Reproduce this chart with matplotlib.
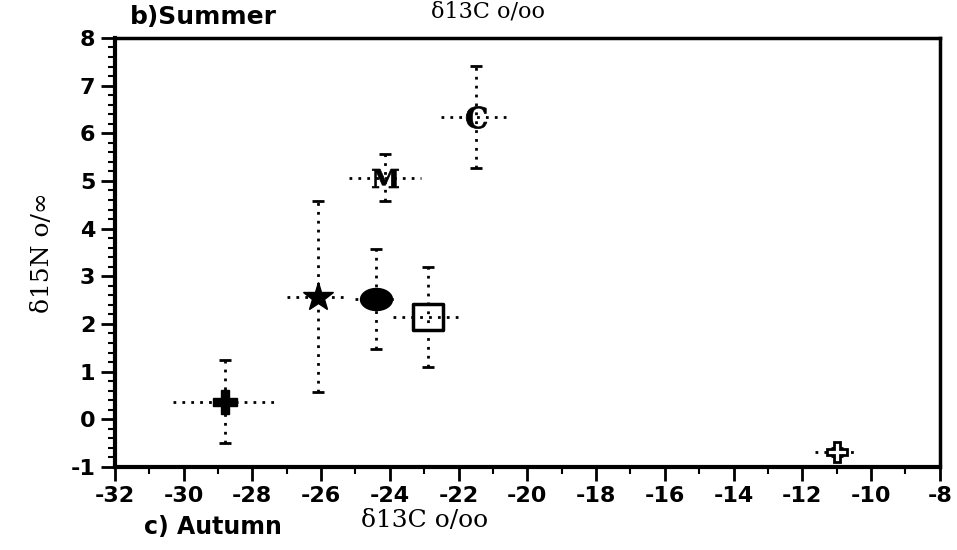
import numpy as np
import matplotlib
matplotlib.use('Agg')
import matplotlib.pyplot as plt
from matplotlib.path import Path
from matplotlib.ticker import MultipleLocator

plt.rcParams['axes.unicode_minus'] = False
plt.rcParams['mathtext.fontset'] = 'dejavuserif'

# summer isotope means with standard deviations
groups = ['cross', 'star', 'ellipse', 'square', 'M', 'C', 'open cross']
d13c = [-28.8, -26.1, -24.4, -22.9, -24.15, -21.5, -11.0]
d15n = [0.37, 2.57, 2.53, 2.15, 5.07, 6.35, -0.68]
d13c_sd = [1.5, 0.9, 0.6, 1.0, 1.05, 1.0, 0.62]
d15n_sd = [0.87, 2.0, 1.05, 1.05, 0.5, 1.07, 0.08]

xticks = list(range(-32, -7, 2))
yticks = list(range(-1, 9))

# marker shapes
theta = np.linspace(0, 2 * np.pi, 60)
ellipse = Path(np.column_stack([1.45 * np.cos(theta), np.sin(theta)]))
rect = Path([(-1.2, -1), (1.2, -1), (1.2, 1), (-1.2, 1), (-1.2, -1)],
            [Path.MOVETO, Path.LINETO, Path.LINETO, Path.LINETO, Path.CLOSEPOLY])

styles = {
    'cross': dict(marker='P', ms=17, mfc='black', mec='black'),
    'star': dict(marker='*', ms=22, mfc='black', mec='black'),
    'ellipse': dict(marker=ellipse, ms=23, mfc='black', mec='black'),
    'square': dict(marker=rect, ms=22, mfc='none', mec='black', mew=2.5),
    'M': dict(marker=r'$\mathbf{M}$', ms=19, mfc='black', mec='black', mew=0.5),
    'C': dict(marker=r'$\mathbf{C}$', ms=16, mfc='black', mec='black', mew=0.5),
    'open cross': dict(marker='P', ms=15, mfc='white', mec='black', mew=2),
}

fig = plt.figure(figsize=(9.57, 5.5), dpi=100)
ax = fig.add_axes([0.120, 0.151, 0.862, 0.780])

for g, x, y, xe, ye in zip(groups, d13c, d15n, d13c_sd, d15n_sd):
    # vertical bars carry small caps, horizontal ones do not
    ebv = ax.errorbar(x, y, yerr=ye, fmt='none', ecolor='black',
                      elinewidth=2, capsize=4, capthick=2, zorder=2)
    ebh = ax.errorbar(x, y, xerr=xe, fmt='none', ecolor='black',
                      elinewidth=2, capsize=0, zorder=2)
    for lc in list(ebv[2]) + list(ebh[2]):
        lc.set_linestyle((0, (1, 2.2)))
    ax.plot(x, y, linestyle='none', zorder=3, **styles[g])

ax.set_xlim(-32, -8)
ax.set_ylim(-1, 8)
ax.set_xticks(xticks)
ax.set_yticks(yticks)
ax.xaxis.set_minor_locator(MultipleLocator(1))
ax.yaxis.set_minor_locator(MultipleLocator(0.2))
ax.tick_params(which='major', direction='out', length=10, width=2, pad=4)
ax.tick_params(which='minor', direction='out', length=5, width=1.5)
ax.tick_params(top=False, right=False)

for lab in ax.get_xticklabels() + ax.get_yticklabels():
    lab.set_fontfamily('DejaVu Sans')
    lab.set_fontweight('bold')
    lab.set_fontsize(16)

for side in ['left', 'bottom']:
    ax.spines[side].set_linewidth(3)
for side in ['top', 'right']:
    ax.spines[side].set_linewidth(2.5)

ax.set_xlabel('δ13C o/oo', fontsize=18, family='DejaVu Serif', labelpad=2,
              x=0.376)
ax.set_ylabel('δ15N o/∞', fontsize=18, family='DejaVu Serif', labelpad=12)

# panel labels
fig.text(0.136, 0.948, 'b)Summer', fontsize=18, fontweight='bold',
         family='DejaVu Sans', ha='left', va='bottom')
fig.text(0.150, 0.020, 'c) Autumn', fontsize=17, fontweight='bold',
         family='DejaVu Sans', ha='left', va='bottom')
# caption of the panel above
fig.text(0.51, 0.999, 'δ13C o/oo', fontsize=16, family='DejaVu Serif',
         ha='center', va='top')

fig.savefig('out.png', dpi=100)
